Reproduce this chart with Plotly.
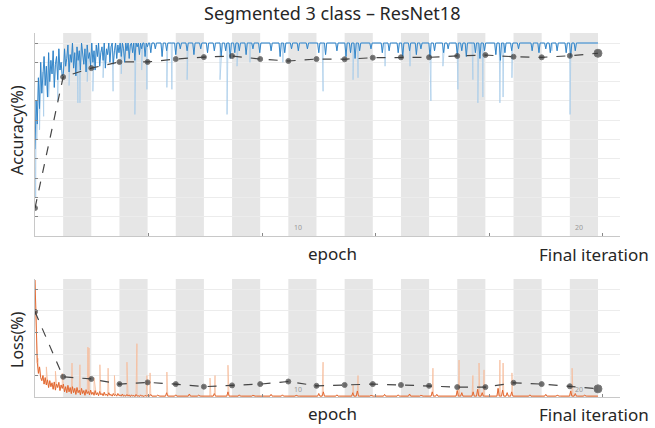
import plotly.graph_objects as go

ITER_PER_EPOCH = 124
N_EPOCHS = 20
X_MAX = 2577
EPOCH_LABELS = ["10", "20"]

# smoothed training accuracy (iterations 0..495, step 5)
ACC_EARLY = [45, 70, 58, 82, 66, 90, 74, 85, 93, 78, 88, 72, 95, 80, 91, 84, 96, 77, 89, 93,
             81, 97, 86, 90, 83,
             84, 97, 88, 92, 99, 85, 94, 90, 100, 87, 95, 83, 98, 91, 96, 86, 100, 93, 89, 97,
             85, 99, 92, 95, 88,
             100, 90, 96, 86, 99, 93, 100, 88, 95, 98, 91, 100, 87, 97, 94, 100, 90, 98, 100, 89,
             96, 100, 92, 99, 95,
             100, 93, 100, 97, 90, 100, 96, 100, 92, 99, 100, 95, 100, 91, 100, 98, 100, 94, 100, 97,
             100, 100, 93, 100, 98]
# smoothed training accuracy after iteration 500: top value with listed teeth (5-iteration grid)
ACC_TOP = 100
ACC_TEETH_ITER = [510, 530, 560, 580, 620, 640, 670, 700, 730, 760, 790, 820, 840, 860, 880,
                  900, 930, 960, 990, 1040, 1080, 1100, 1130, 1160, 1200, 1250, 1280, 1330,
                  1370, 1390, 1410, 1430, 1480, 1530, 1560, 1600, 1620, 1650, 1680, 1700, 1740,
                  1760, 1800, 1820, 1860, 1880, 1900, 1940, 1960, 1980, 2030, 2050, 2070, 2100,
                  2130, 2190, 2220, 2250, 2270, 2300, 2340, 2360, 2380]
ACC_TEETH_VAL = [95, 97, 93, 96, 94, 97, 96, 94, 97, 95, 96, 93, 96, 92, 95,
                 96, 94, 97, 95, 96, 93, 95, 97, 96, 97, 95, 94, 96,
                 93, 95, 92, 96, 97, 95, 96, 95, 93, 96, 94, 97, 93,
                 96, 95, 97, 94, 96, 93, 95, 92, 96, 94, 91, 95, 96,
                 97, 96, 95, 97, 95, 96, 95, 93, 96]
# raw training accuracy dips (iteration, accuracy)
ACC_DIP_ITER = [3, 8, 20, 38, 60, 100, 150, 189, 198, 230, 255, 300, 344, 380, 440, 470, 493,
                581, 603, 670, 815, 846, 890, 947, 1092, 1269, 1401, 1423, 1542, 1652, 1744,
                1797, 1863, 1929, 1951, 1973, 2048, 2062, 2101, 2277, 2357]
ACC_DIP_VAL = [20, 50, 55, 62, 72, 70, 78, 69, 69, 80, 75, 82, 75, 84, 63, 86, 76,
               77, 76, 81, 81, 63, 88, 90, 90, 75, 81, 82, 88, 88, 70,
               88, 76, 81, 69, 72, 69, 72, 82, 96, 63]
# validation accuracy at each epoch end
VAL_ACC = [14.5, 82.4, 87.0, 90.2, 90.2, 91.7, 92.7, 93.3, 91.7, 90.7, 91.7,
           91.6, 92.4, 92.6, 92.6, 93.3, 93.8, 92.9, 92.6, 93.4, 94.7]

# smoothed training loss (iterations 0..495, step 5)
LOSS_EARLY = [2.72, 1.4, 0.8, 0.55, 0.7, 0.45, 0.38, 0.5, 0.3, 0.45, 0.28, 0.4, 0.22, 0.38, 0.24,
              0.33, 0.18, 0.35, 0.16, 0.3, 0.22, 0.34, 0.15, 0.28, 0.2,
              0.3, 0.12, 0.24, 0.1, 0.27, 0.12, 0.22, 0.08, 0.24, 0.1, 0.2, 0.06, 0.22, 0.1, 0.16,
              0.05, 0.2, 0.08, 0.15, 0.04, 0.17, 0.08, 0.13, 0.05, 0.16, 0.06, 0.11, 0.04, 0.15, 0.05,
              0.1, 0.03, 0.13, 0.05, 0.08, 0.03, 0.11, 0.04, 0.07, 0.02, 0.1, 0.04, 0.06, 0.02, 0.08,
              0.03, 0.06, 0.02, 0.08, 0.03, 0.05, 0.02, 0.07, 0.02, 0.04, 0.02, 0.06, 0.02, 0.05, 0.01,
              0.05, 0.02, 0.04, 0.01, 0.06, 0.02, 0.03, 0.01, 0.05, 0.02, 0.03, 0.01, 0.04, 0.02, 0.03]
# smoothed training loss after iteration 500: floor value with listed bumps (5-iteration grid)
LOSS_FLOOR = 0.02
LOSS_BUMP_ITER = [510, 540, 580, 620, 680, 720, 790, 850, 900, 960, 1040, 1090, 1150, 1250,
                  1270, 1330, 1400, 1420, 1480, 1540, 1600, 1650, 1700, 1750, 1770, 1860, 1880,
                  1930, 1950, 1970, 2040, 2060, 2080, 2100, 2180, 2250, 2300, 2360, 2380, 2420]
LOSS_BUMP_VAL = [0.06, 0.04, 0.1, 0.05, 0.07, 0.04, 0.08, 0.12, 0.05, 0.04, 0.06, 0.05, 0.04,
                 0.08, 0.12, 0.05, 0.1, 0.14, 0.04, 0.06, 0.05, 0.07, 0.04, 0.12, 0.06, 0.15,
                 0.1, 0.12, 0.18, 0.1, 0.2, 0.16, 0.1, 0.12, 0.05, 0.06, 0.04, 0.14, 0.08, 0.04]
# raw training loss spikes (iteration, loss)
LOSS_SPIKE_ITER = [13, 50, 90, 120, 163, 198, 233, 238, 260, 286, 322, 350, 405, 449, 493, 507,
                   581, 771, 793, 850, 1269, 1401, 1423, 1753, 1868, 1929, 1956, 1978, 2048,
                   2062, 2101, 2366]
LOSS_SPIKE_VAL = [0.9, 0.7, 0.6, 0.55, 0.79, 0.75, 1.16, 1.14, 0.45, 0.75, 0.67, 0.5, 0.81, 1.24,
                  0.5, 0.56, 0.58, 0.44, 0.5, 0.74, 0.81, 0.28, 0.5, 0.67, 0.86, 0.5, 0.79, 0.63,
                  0.86, 0.79, 0.56, 0.67]
# validation loss at each epoch end
VAL_LOSS = [1.98, 0.47, 0.42, 0.30, 0.34, 0.30, 0.24, 0.27, 0.30, 0.36, 0.26,
            0.28, 0.30, 0.28, 0.26, 0.23, 0.23, 0.33, 0.30, 0.25, 0.19]

TOTAL = ITER_PER_EPOCH * N_EPOCHS
GRID = 5
early_it = [5 * i for i in range(len(ACC_EARLY))]
late_grid = list(range(500, TOTAL + 1, GRID))


def sparse_series(grid, base, its, vals):
    d = {g: base for g in grid}
    for it, v in zip(its, vals):
        d[int(round(it / float(GRID))) * GRID] = v
    return [d[g] for g in grid]


smooth_it = early_it + late_grid
acc_smooth = ACC_EARLY + sparse_series(late_grid, ACC_TOP, ACC_TEETH_ITER, ACC_TEETH_VAL)
loss_smooth = LOSS_EARLY + sparse_series(late_grid, LOSS_FLOOR, LOSS_BUMP_ITER, LOSS_BUMP_VAL)


def merge(it_a, va, it_b, vb):
    pts = sorted(list(zip(it_a, va)) + list(zip(it_b, vb)), key=lambda p: p[0])
    return [p[0] for p in pts], [p[1] for p in pts]


acc_raw_x, acc_raw_y = merge(smooth_it, acc_smooth, ACC_DIP_ITER, ACC_DIP_VAL)
loss_raw_x, loss_raw_y = merge(smooth_it, loss_smooth, LOSS_SPIKE_ITER, LOSS_SPIKE_VAL)
val_x = [ITER_PER_EPOCH * k for k in range(N_EPOCHS + 1)]

BLUE_L = "#a9cdea"
BLUE = "#2a80c6"
ORANGE_L = "#f6bd9c"
ORANGE = "#e0622a"
VAL_C = "#454545"

fig = go.Figure()
fig.add_trace(go.Scatter(x=acc_raw_x, y=acc_raw_y, mode="lines",
                         line=dict(color=BLUE_L, width=0.8), xaxis="x", yaxis="y"))
fig.add_trace(go.Scatter(x=smooth_it, y=acc_smooth, mode="lines",
                         line=dict(color=BLUE, width=0.9), xaxis="x", yaxis="y"))
fig.add_trace(go.Scatter(x=val_x, y=VAL_ACC, mode="lines+markers",
                         line=dict(color=VAL_C, width=1.2, dash="dash"),
                         marker=dict(color="#333333", size=[5] * N_EPOCHS + [8]),
                         xaxis="x", yaxis="y"))
fig.add_trace(go.Scatter(x=loss_raw_x, y=loss_raw_y, mode="lines",
                         line=dict(color=ORANGE_L, width=0.8), xaxis="x2", yaxis="y2"))
fig.add_trace(go.Scatter(x=smooth_it, y=loss_smooth, mode="lines",
                         line=dict(color=ORANGE, width=0.9), xaxis="x2", yaxis="y2"))
fig.add_trace(go.Scatter(x=val_x, y=VAL_LOSS, mode="lines+markers",
                         line=dict(color=VAL_C, width=1.2, dash="dash"),
                         marker=dict(color="#333333", size=[5] * N_EPOCHS + [8]),
                         xaxis="x2", yaxis="y2"))

shapes = []
for k in range(2, N_EPOCHS + 1, 2):
    for xr, yr in (("x", "y domain"), ("x2", "y2 domain")):
        shapes.append(dict(type="rect", xref=xr, yref=yr, x0=ITER_PER_EPOCH * (k - 1),
                           x1=ITER_PER_EPOCH * k, y0=0, y1=1, fillcolor="#e6e6e6",
                           line=dict(width=0), layer="below"))

FONT = "Noto Sans"
TXT = "#262626"
ax_common = dict(showline=True, linecolor="#c8c8c8", linewidth=1, ticks="inside",
                 ticklen=3, tickcolor="#888888", showticklabels=False, zeroline=False,
                 mirror=False)


def paper_text(text, xp, yp, size, angle=0, xanchor="center"):
    return dict(text=text, x=xp / 655, y=1 - yp / 428, xref="paper", yref="paper",
                xanchor=xanchor, yanchor="middle", showarrow=False, textangle=angle,
                font=dict(size=size, color=TXT, family=FONT))


annotations = [
    paper_text("Segmented 3 class – ResNet18", 332, 13, 18),
    paper_text("Accuracy(%)", 17, 130, 16, angle=-90),
    paper_text("Loss(%)", 17, 340, 16, angle=-90),
]
for yc in (253, 413):
    annotations.append(paper_text("epoch", 332, yc, 17))
    annotations.append(paper_text("Final iteration", 537, yc + 1, 17, xanchor="left"))
for j, lab in enumerate(EPOCH_LABELS):
    ep = (j + 1) * 10
    annotations.append(dict(text=lab, x=ITER_PER_EPOCH * (ep - 1) + 15, y=1, xref="x",
                            yref="y", xanchor="left", yanchor="bottom", showarrow=False,
                            font=dict(size=7, color="#999999", family=FONT)))
    annotations.append(dict(text=lab, x=ITER_PER_EPOCH * (ep - 1) + 15, y=0.02, xref="x2",
                            yref="y2", xanchor="left", yanchor="bottom", showarrow=False,
                            font=dict(size=7, color="#999999", family=FONT)))

fig.update_layout(
    width=655, height=428, margin=dict(l=0, r=0, t=0, b=0),
    paper_bgcolor="white", plot_bgcolor="white", showlegend=False,
    xaxis=dict(domain=[35 / 655, 620 / 655], range=[0, X_MAX], dtick=500, anchor="y",
               showgrid=False, **ax_common),
    yaxis=dict(domain=[1 - 236 / 428, 1 - 33 / 428], range=[0, 105.2], dtick=10,
               anchor="x", showgrid=True, gridcolor="#ececec", gridwidth=1, **ax_common),
    xaxis2=dict(domain=[35 / 655, 620 / 655], range=[0, X_MAX], dtick=500, anchor="y2",
                showgrid=False, **ax_common),
    yaxis2=dict(domain=[1 - 397 / 428, 1 - 279 / 428], range=[0, 2.744], dtick=0.5,
                anchor="x2", showgrid=True, gridcolor="#ececec", gridwidth=1, **ax_common),
    shapes=shapes, annotations=annotations,
)

fig.write_html("out.html")
